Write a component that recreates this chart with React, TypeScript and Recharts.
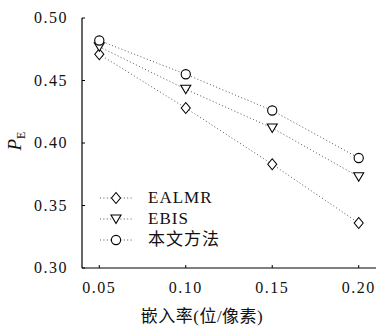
import React from 'react';
import { LineChart, Line, XAxis, YAxis, Legend } from 'recharts';

// embedding rate (bits/pixel)
const rates = [0.05, 0.1, 0.15, 0.2];
const ealmr = [0.471, 0.428, 0.383, 0.336];
const ebis = [0.477, 0.443, 0.412, 0.373];
const ours = [0.482, 0.455, 0.426, 0.388];

const xTicks = [0.05, 0.1, 0.15, 0.2];
const yTicks = [0.3, 0.35, 0.4, 0.45, 0.5];

const seriesNames = ['EALMR', 'EBIS', '本文方法'];

const data = rates.map((r, i) => ({ rate: r, ealmr: ealmr[i], ebis: ebis[i], ours: ours[i] }));

const SERIF = 'Liberation Serif, DejaVu Serif, Noto Sans CJK SC, serif';
const LINE = '#555';
const DASH = '1 2.4';

const Diamond = ({ cx, cy }: any) => (
  <path
    d={`M${cx},${cy - 5.5}L${cx + 4.5},${cy}L${cx},${cy + 5.5}L${cx - 4.5},${cy}Z`}
    fill="#fff"
    stroke="#000"
    strokeWidth={1.1}
  />
);

const Triangle = ({ cx, cy }: any) => (
  <path
    d={`M${cx - 5},${cy - 4}L${cx + 5},${cy - 4}L${cx},${cy + 4.5}Z`}
    fill="#fff"
    stroke="#000"
    strokeWidth={1.1}
  />
);

const Ring = ({ cx, cy }: any) => (
  <circle cx={cx} cy={cy} r={4.6} fill="#fff" stroke="#000" strokeWidth={1.1} />
);

const markers = [Diamond, Triangle, Ring];

const BottomTick = ({ x, y, payload }: any) => (
  <g>
    <line x1={x} y1={y} x2={x} y2={y - 3} stroke="#000" />
    <text x={x} y={y + 25} textAnchor="middle" fontFamily={SERIF} fontSize={16} letterSpacing={1.5} fill="#111">
      {payload.value.toFixed(2)}
    </text>
  </g>
);

const TopTick = ({ x, y }: any) => <line x1={x} y1={y} x2={x} y2={y + 3} stroke="#000" />;

const LeftTick = ({ x, y, payload }: any) => (
  <g>
    <line x1={x} y1={y} x2={x + 3} y2={y} stroke="#000" />
    <text x={x - 14} y={y + 5} textAnchor="end" fontFamily={SERIF} fontSize={16} letterSpacing={1.5} fill="#111">
      {payload.value.toFixed(2)}
    </text>
  </g>
);

const RightTick = ({ x, y }: any) => <line x1={x} y1={y} x2={x - 3} y2={y} stroke="#000" />;

const renderLegend = () => (
  <div style={{ fontFamily: SERIF, fontSize: 17, letterSpacing: 1, color: '#111' }}>
    {seriesNames.map((name, i) => {
      const M = markers[i];
      return (
        <div key={name} style={{ display: 'flex', alignItems: 'center', height: 21.3 }}>
          <svg width={34} height={20} style={{ display: 'block' }}>
            <line x1={0} y1={10} x2={34} y2={10} stroke={LINE} strokeDasharray={DASH} />
            <M cx={16} cy={10} />
          </svg>
          <span style={{ marginLeft: 14, lineHeight: '20px' }}>{name}</span>
        </div>
      );
    })}
  </div>
);

const YLabel = () => (
  <text x={21} y={141} transform="rotate(-90 21 141)" textAnchor="middle" fontFamily={SERIF} fill="#111">
    <tspan fontStyle="italic" fontSize={19}>P</tspan>
    <tspan fontSize={12} dy={4}>E</tspan>
  </text>
);

export default function App() {
  const keys = ['ealmr', 'ebis', 'ours'];
  return (
    <div style={{ position: 'absolute', left: 0, top: 0, background: '#fff' }}>
      <LineChart width={376} height={327} data={data} margin={{ top: 18, right: 0, bottom: 0, left: 0 }}>
        <XAxis
          dataKey="rate"
          type="number"
          domain={[0.04, 0.21]}
          ticks={xTicks}
          height={59}
          tickSize={0}
          tickMargin={0}
          tick={<BottomTick />}
          axisLine={{ stroke: '#000', strokeWidth: 1.2 }}
          tickLine={false}
          interval={0}
          allowDataOverflow
        />
        <XAxis
          xAxisId="top"
          orientation="top"
          dataKey="rate"
          type="number"
          domain={[0.04, 0.21]}
          ticks={xTicks}
          height={0}
          tickSize={0}
          tickMargin={0}
          tick={<TopTick />}
          axisLine={false}
          tickLine={false}
          interval={0}
          allowDataOverflow
        />
        <YAxis
          type="number"
          domain={[0.3, 0.5]}
          ticks={yTicks}
          width={82}
          tickSize={0}
          tickMargin={0}
          tick={<LeftTick />}
          axisLine={{ stroke: '#000', strokeWidth: 1.2 }}
          tickLine={false}
          interval={0}
          allowDataOverflow
          label={<YLabel />}
        />
        <YAxis
          yAxisId="right"
          orientation="right"
          type="number"
          domain={[0.3, 0.5]}
          ticks={yTicks}
          width={0}
          tickSize={0}
          tickMargin={0}
          tick={<RightTick />}
          axisLine={false}
          tickLine={false}
          interval={0}
          allowDataOverflow
        />
        <Legend
          layout="vertical"
          align="center"
          verticalAlign="middle"
          content={renderLegend}
          wrapperStyle={{ position: 'absolute', left: 100, top: 187, width: 'auto', height: 'auto' }}
        />
        {keys.map((k, i) => {
          const M = markers[i];
          return (
            <Line
              key={k}
              dataKey={k}
              name={seriesNames[i]}
              stroke={LINE}
              strokeWidth={1}
              strokeDasharray={DASH}
              isAnimationActive={false}
              dot={(p: any) => <M key={`${k}-${p.index}`} cx={p.cx} cy={p.cy} />}
              activeDot={false}
            />
          );
        })}
        <text x={202} y={322} textAnchor="middle" fontFamily={SERIF} fontSize={17} letterSpacing={0.5} fill="#111">
          嵌入率(位/像素)
        </text>
      </LineChart>
    </div>
  );
}
